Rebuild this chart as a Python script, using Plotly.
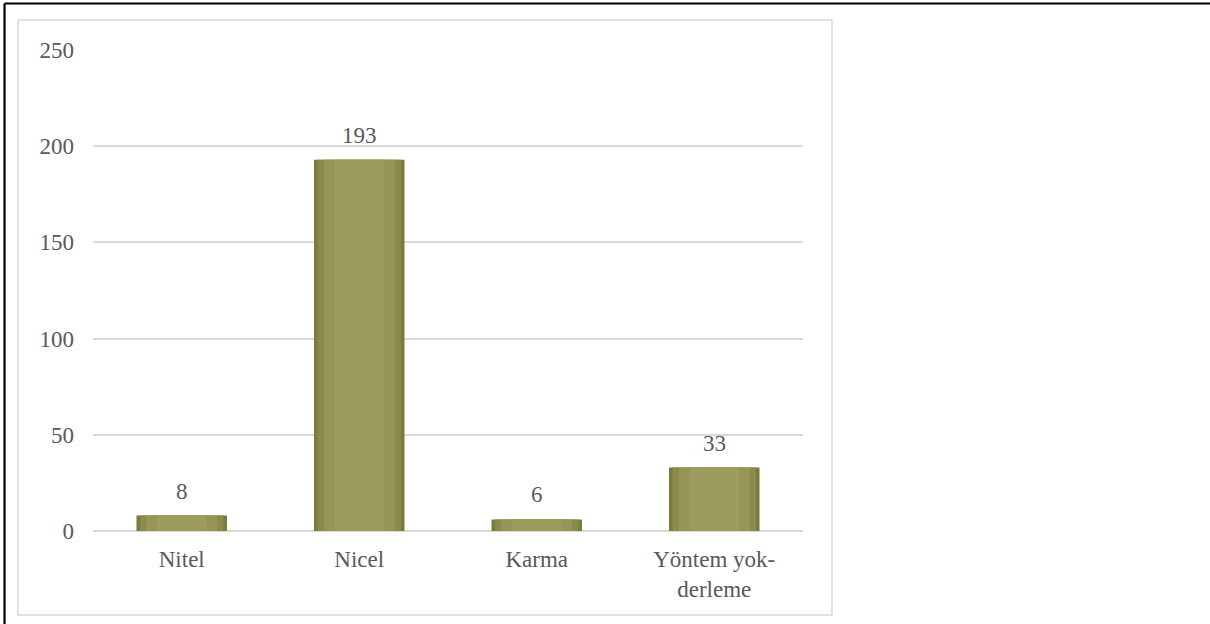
import plotly.graph_objects as go

categories = ["Nitel", "Nicel", "Karma", "Yöntem yok-<br>derleme"]
values = [8, 193, 6, 33]
y_ticks = [0, 50, 100, 150, 200, 250]

FONT = "Liberation Serif, Times New Roman, serif"
TXT = "#595959"
GRID = "#d9d9d9"

fig = go.Figure()
# layered bars to imitate the bevelled/gradient fill
layers = [(0.51, "#7b7b3e"), (0.47, "#8a8a4c"), (0.40, "#959558"), (0.28, "#9c9c5f")]
for w, c in layers:
    fig.add_trace(go.Bar(
        x=categories, y=values, width=w,
        marker=dict(color=c, line=dict(width=0)),
        hoverinfo="skip", showlegend=False,
    ))

for cat, v in zip(categories, values):
    fig.add_annotation(x=cat, y=v, text=str(v), showarrow=False,
                       yanchor="bottom", yshift=10,
                       font=dict(family=FONT, size=23, color=TXT))

shapes = [
    # inner light chart frame
    dict(type="rect", xref="paper", yref="paper",
         x0=-0.1056, x1=1.0408, y0=-0.1746, y1=1.0624,
         line=dict(color=GRID, width=1.5), layer="below"),
    # outer black frame (top and left)
    dict(type="line", xref="paper", yref="paper",
         x0=-0.1246, x1=1.58, y0=1.0967, y1=1.0967,
         line=dict(color="black", width=2.2)),
    dict(type="line", xref="paper", yref="paper",
         x0=-0.1246, x1=-0.1246, y0=-0.2, y1=1.0967,
         line=dict(color="black", width=2.2)),
]

fig.update_layout(
    width=1210, height=624,
    margin=dict(l=93, r=407, t=50, b=93, autoexpand=False),
    paper_bgcolor="white", plot_bgcolor="white",
    barmode="overlay",
    shapes=shapes,
    font=dict(family=FONT, size=23, color=TXT),
    xaxis=dict(showgrid=False, showline=False, ticks="",
               ticklabelstandoff=12,
               tickfont=dict(family=FONT, size=23, color=TXT),
               fixedrange=True),
    yaxis=dict(range=[0, 250], tickvals=y_ticks, showgrid=True,
               gridcolor=GRID, gridwidth=1.5, zeroline=True,
               zerolinecolor=GRID, zerolinewidth=1.5, showline=False,
               ticks="", ticklabelstandoff=18,
               tickfont=dict(family=FONT, size=23, color=TXT),
               fixedrange=True),
)

fig.write_html("out.html")
